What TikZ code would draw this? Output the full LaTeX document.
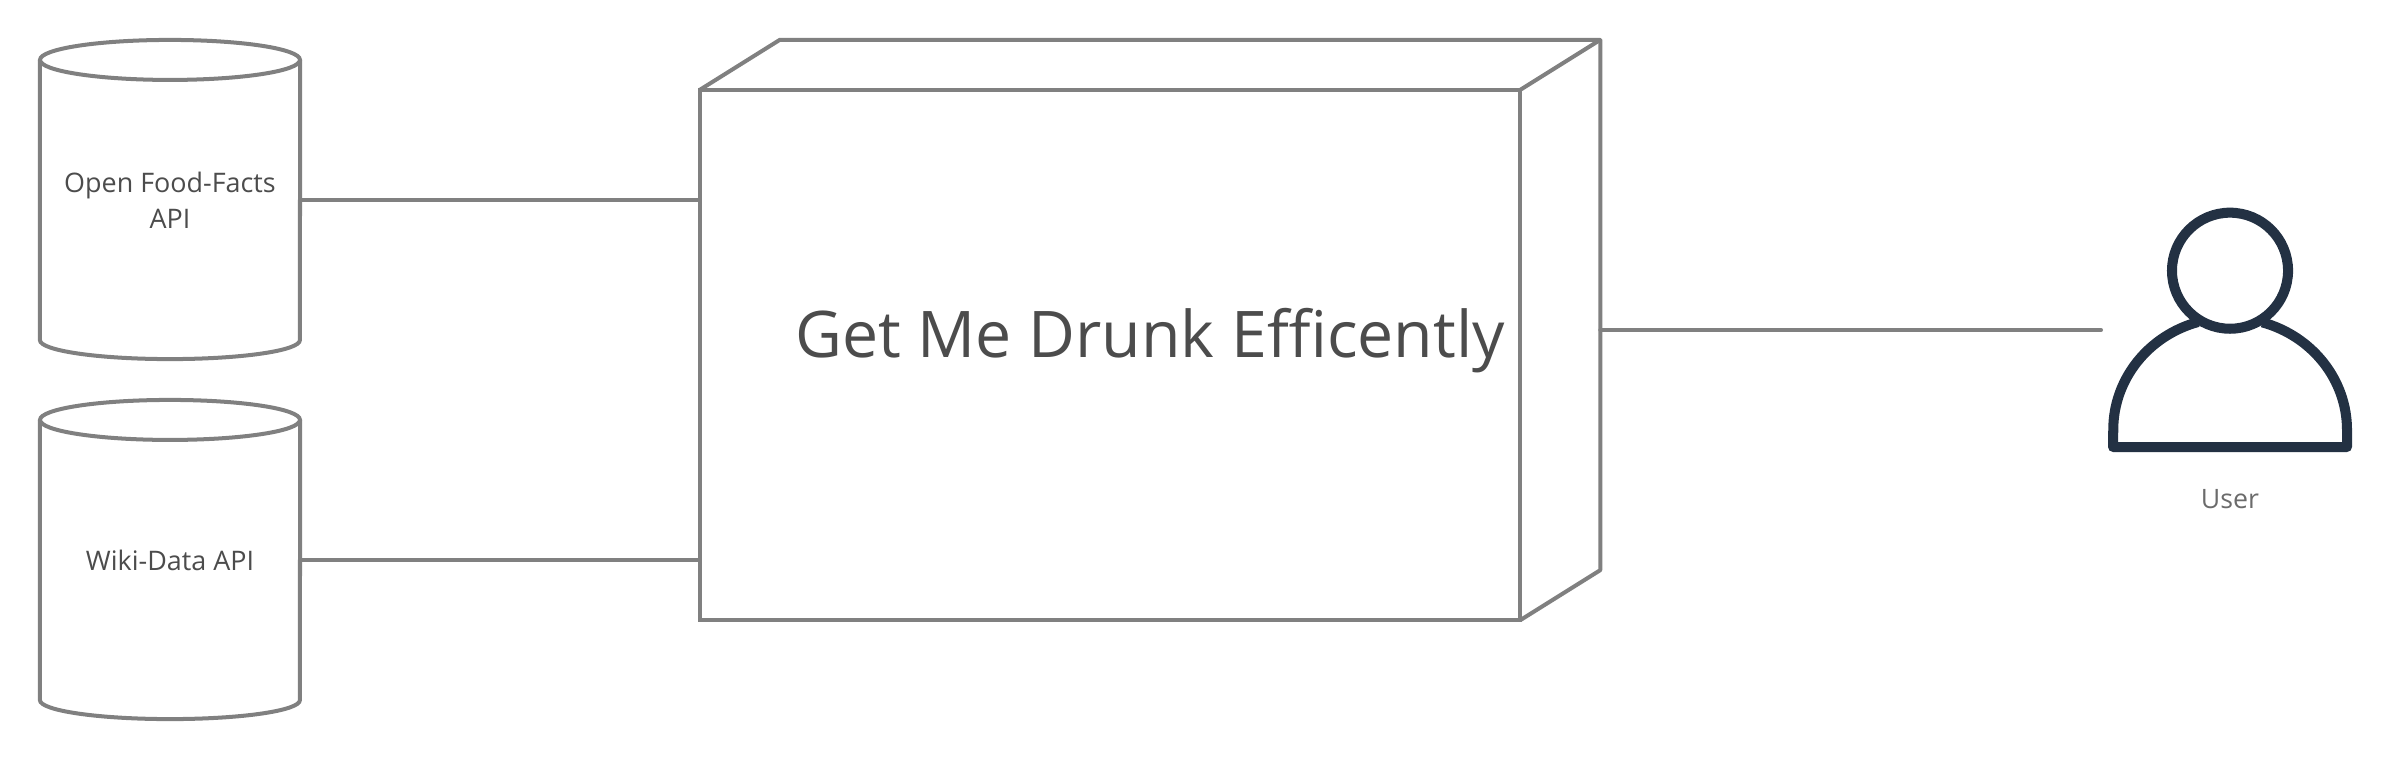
\documentclass[tikz,border=0pt]{standalone}
\usepackage{fontspec}
\setmainfont{Open Sans}
\definecolor{linegray}{HTML}{808080}
\definecolor{textgray}{HTML}{4C4C4C}
\definecolor{usergray}{HTML}{6B6B6B}
\definecolor{userdark}{HTML}{233143}
\usetikzlibrary{calc}
\tikzset{
	greyline/.style={draw=linegray, line width=1.14pt},
	apidb/.style={rectangle, minimum width=2.6cm, minimum height=2.8cm, inner sep=0pt, outer sep=0pt, align=center, text=textgray, font=\fontsize{7.65}{10.24}\selectfont},
	userline/.style={draw=userdark, line width=2.85pt, line join=round}
}
\begin{document}
\begin{tikzpicture}[x=.01cm, y=-.01cm]
	\useasboundingbox (0,0) rectangle (2400,760);

	% Data sources
	\node[apidb] (foodapi) at (170,200) {Open Food-Facts\\API};
	\node[apidb] (wikiapi) at (170,560) {Wiki-Data API};
	\foreach \api in {foodapi,wikiapi} {
		\draw[greyline] (\api.north) ellipse [x radius=130, y radius=20];
		\draw[greyline] (\api.north west) -- (\api.south west) arc[start angle=180, end angle=0, x radius=130, y radius=19] -- (\api.north east);
	}

	% Box, front face then depth
	\node[greyline, rectangle, minimum width=8.2cm, minimum height=5.3cm, inner sep=0pt, outer sep=0pt] (box) at (1110,355) {};
	\coordinate (backne) at ($(box.north east)+(80,-50)$);
	\coordinate (backse) at ($(box.south east)+(80,-50)$);
	\draw[greyline, line join=round] (box.north west) -- ++(80,-50) -- (backne) -- (box.north east);
	\draw[greyline, line join=round] (backne) -- (backse) -- (box.south east);
	\node[anchor=base, text=textgray, inner sep=0pt, font=\fontsize{18.3}{22}\selectfont] (boxtitle) at (1150,357) {Get Me Drunk Efficently};

	% User
	\node[circle, draw=userdark, line width=2.85pt, minimum size=1.16cm, inner sep=0pt, outer sep=0pt] (head) at (2230,270.7) {};
	\draw[userline] (2198,322) arc[start angle=254, end angle=180, x radius=117, y radius=112] -- (2113,447) -- (2347,447) -- (2347,430) arc[start angle=0, end angle=-74, x radius=117, y radius=112];
	\node[anchor=base, text=usergray, inner sep=0pt, font=\fontsize{7.6}{10}\selectfont] (userlabel) at (2230,508.5) {User};
	\coordinate (userport) at (2101,330);

	% Connectors
	\draw[greyline] (foodapi.east) -- (box.west |- foodapi.east);
	\draw[greyline] (wikiapi.east) -- (box.west |- wikiapi.east);
	\draw[greyline, line cap=round] (backne |- userport) -- (userport);
\end{tikzpicture}
\end{document}
